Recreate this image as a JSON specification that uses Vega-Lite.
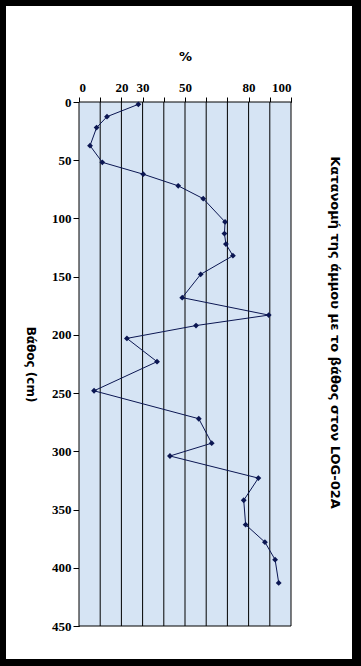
{
  "$schema": "https://vega.github.io/schema/vega-lite/v6.json",
  "autosize": "none",
  "width": 346,
  "height": 653,
  "padding": {"left": 6, "top": 6, "right": 9, "bottom": 7},
  "background": "#000000",
  "config": {"view": {"fill": "#ffffff", "stroke": null}},
  "title": {
    "text": "Κατανομή της άμμου με το βάθος στον LOG-02A",
    "orient": "right",
    "anchor": "middle",
    "frame": "group",
    "offset": -17,
    "dy": 7,
    "font": "DejaVu Sans",
    "fontSize": 13,
    "fontWeight": "bold",
    "color": "#000000"
  },
  "datasets": {
    "sand": [
      {"depth": 2, "pct": 28.0},
      {"depth": 12.6, "pct": 13.2},
      {"depth": 22, "pct": 8.3},
      {"depth": 37.5, "pct": 5.2},
      {"depth": 51.8, "pct": 11.0},
      {"depth": 62, "pct": 30.3},
      {"depth": 72, "pct": 46.8},
      {"depth": 83, "pct": 58.6},
      {"depth": 103, "pct": 68.9},
      {"depth": 113, "pct": 68.6},
      {"depth": 122, "pct": 69.3},
      {"depth": 132, "pct": 72.6},
      {"depth": 148, "pct": 57.4},
      {"depth": 168, "pct": 48.7},
      {"depth": 183, "pct": 89.5},
      {"depth": 192, "pct": 55.2},
      {"depth": 203, "pct": 22.6},
      {"depth": 223, "pct": 36.8},
      {"depth": 248, "pct": 7.1},
      {"depth": 272, "pct": 56.5},
      {"depth": 293, "pct": 62.6},
      {"depth": 304, "pct": 42.9},
      {"depth": 323, "pct": 84.6},
      {"depth": 342, "pct": 77.7},
      {"depth": 363, "pct": 78.6},
      {"depth": 378, "pct": 87.7},
      {"depth": 393, "pct": 92.5},
      {"depth": 413, "pct": 94.2}
    ],
    "grid": [
      {"g": 10}, {"g": 20}, {"g": 30}, {"g": 40}, {"g": 50},
      {"g": 60}, {"g": 70}, {"g": 80}, {"g": 90}
    ]
  },
  "resolve": {"axis": {"x": "independent"}},
  "layer": [
    {
      "data": {"values": [{}]},
      "mark": {"type": "rect", "fill": "#d6e4f4", "stroke": "#000000", "strokeWidth": 1},
      "encoding": {
        "x": {"datum": 0, "type": "quantitative", "scale": {"domain": [0, 100], "range": [73, 285], "nice": false},
          "axis": {
            "orient": "top",
            "offset": -96,
            "values": [0, 20, 30, 50, 80, 100],
            "labelOverlap": false,
            "grid": false,
            "domainColor": "#000000",
            "tickColor": "#000000",
            "tickSize": 5,
            "labelPadding": 3,
            "labelFont": "Liberation Serif",
            "labelFontWeight": "bold",
            "labelFontSize": 13,
            "labelColor": "#000000",
            "title": "%",
            "titleFont": "DejaVu Sans",
            "titleFontWeight": "bold",
            "titleFontSize": 13,
            "titleColor": "#000000",
            "titlePadding": 18
          }
        },
        "x2": {"datum": 100},
        "y": {"datum": 0, "type": "quantitative", "scale": {"domain": [0, 450], "range": [96, 620], "nice": false},
          "axis": {
            "orient": "left",
            "offset": -73,
            "values": [0, 50, 100, 150, 200, 250, 300, 350, 400, 450],
            "labelOverlap": false,
            "grid": false,
            "domainColor": "#000000",
            "tickColor": "#000000",
            "tickSize": 6,
            "labelPadding": 2,
            "labelFont": "Liberation Serif",
            "labelFontWeight": "bold",
            "labelFontSize": 13,
            "labelColor": "#000000",
            "title": "Βάθος (cm)",
            "titleAngle": 90,
            "titleFont": "DejaVu Sans",
            "titleFontWeight": "bold",
            "titleFontSize": 12,
            "titleColor": "#000000",
            "titlePadding": 28
          }
        },
        "y2": {"datum": 450}
      }
    },
    {
      "data": {"name": "grid"},
      "mark": {"type": "rule", "color": "#000000", "strokeWidth": 1},
      "encoding": {
        "x": {"field": "g", "type": "quantitative",
          "axis": {
            "orient": "top",
            "offset": -96,
            "values": [10, 40, 60, 70, 90],
            "labels": false,
            "domain": false,
            "grid": false,
            "tickColor": "#000000",
            "tickSize": 5,
            "title": null
          }
        },
        "y": {"datum": 0, "type": "quantitative"},
        "y2": {"datum": 450}
      }
    },
    {
      "data": {"name": "sand"},
      "mark": {"type": "line", "color": "#0b1652", "strokeWidth": 1},
      "encoding": {
        "x": {"field": "pct", "type": "quantitative", "axis": null},
        "y": {"field": "depth", "type": "quantitative"},
        "order": {"field": "depth", "type": "quantitative"}
      }
    },
    {
      "data": {"name": "sand"},
      "mark": {"type": "point", "shape": "diamond", "filled": true, "size": 34, "color": "#0b1652", "opacity": 1},
      "encoding": {
        "x": {"field": "pct", "type": "quantitative", "axis": null},
        "y": {"field": "depth", "type": "quantitative"}
      }
    }
  ]
}
